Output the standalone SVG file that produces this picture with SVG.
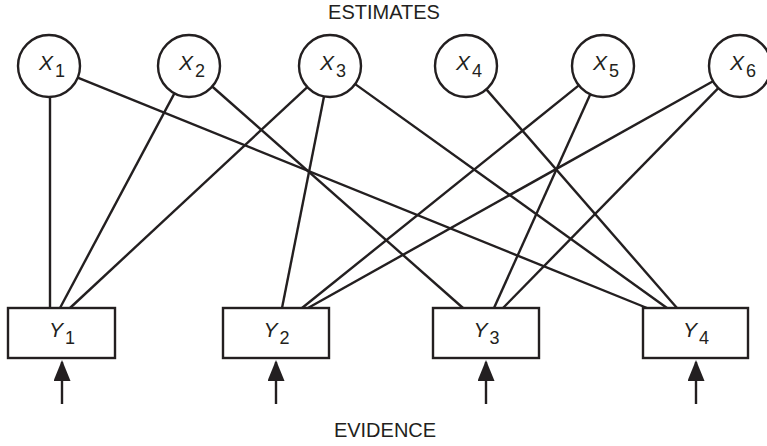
<svg xmlns="http://www.w3.org/2000/svg" width="767" height="446" viewBox="0 0 767 446">
<style>
.n{fill:#fff;stroke:#231f20;stroke-width:2.4}
.e line{stroke:#231f20;stroke-width:2.4;fill:none}
.lbl{font-family:"Liberation Sans",Arial,sans-serif;font-size:21px;fill:#231f20}
.lbl .v{font-style:italic}
.lbl .s{font-size:18px}
.cap{font-family:"Liberation Sans",Arial,sans-serif;font-size:20px;fill:#231f20;text-anchor:middle}
.ev{stroke:#231f20;stroke-width:2.4}
</style>
<defs>
<marker id="ah" viewBox="0 0 21 17" markerWidth="21" markerHeight="17" markerUnits="userSpaceOnUse" refX="19" refY="8.5" orient="auto">
<path d="M0,0 L21,8.5 L0,17 z" fill="#231f20"/>
</marker>
</defs>
<rect width="767" height="446" fill="#fff"/>
<text class="cap" x="384" y="19">ESTIMATES</text>
<text class="cap" x="385" y="437">EVIDENCE</text>
<g class="e" id="connectors">
<line x1="50" y1="97" x2="50" y2="308"/>
<line x1="77.7" y1="77.6" x2="647" y2="308"/>
<line x1="174.4" y1="93.4" x2="60" y2="308"/>
<line x1="212.2" y1="86.5" x2="463" y2="308"/>
<line x1="307.3" y1="87.1" x2="70" y2="308"/>
<line x1="324" y1="96.4" x2="282" y2="308"/>
<line x1="355.2" y1="84.1" x2="667" y2="308"/>
<line x1="486.4" y1="89.4" x2="677" y2="308"/>
<line x1="578.8" y1="85.4" x2="302" y2="308"/>
<line x1="590.3" y1="94.3" x2="494" y2="308"/>
<line x1="713" y1="81.2" x2="308" y2="308"/>
<line x1="718.3" y1="88.1" x2="503" y2="308"/>
<line class="ev" x1="62" y1="404" x2="62" y2="362" marker-end="url(#ah)"/>
<line class="ev" x1="276" y1="404" x2="276" y2="362" marker-end="url(#ah)"/>
<line class="ev" x1="486" y1="404" x2="486" y2="362" marker-end="url(#ah)"/>
<line class="ev" x1="696" y1="404" x2="696" y2="362" marker-end="url(#ah)"/>
</g>
<g id="X1"><circle class="n" cx="49" cy="66" r="31"/><text class="lbl" x="39" y="70"><tspan class="v">X</tspan><tspan class="s" dx="2" dy="7">1</tspan></text></g>
<g id="X2"><circle class="n" cx="189" cy="66" r="31"/><text class="lbl" x="179" y="70"><tspan class="v">X</tspan><tspan class="s" dx="2" dy="7">2</tspan></text></g>
<g id="X3"><circle class="n" cx="330" cy="66" r="31"/><text class="lbl" x="320" y="70"><tspan class="v">X</tspan><tspan class="s" dx="2" dy="7">3</tspan></text></g>
<g id="X4"><circle class="n" cx="466" cy="66" r="31"/><text class="lbl" x="456" y="70"><tspan class="v">X</tspan><tspan class="s" dx="2" dy="7">4</tspan></text></g>
<g id="X5"><circle class="n" cx="603" cy="66" r="31"/><text class="lbl" x="593" y="70"><tspan class="v">X</tspan><tspan class="s" dx="2" dy="7">5</tspan></text></g>
<g id="X6"><circle class="n" cx="740" cy="66" r="31"/><text class="lbl" x="730" y="70"><tspan class="v">X</tspan><tspan class="s" dx="2" dy="7">6</tspan></text></g>
<g id="Y1"><rect class="n" x="8" y="308" width="107" height="50"/><text class="lbl" x="49" y="337"><tspan class="v">Y</tspan><tspan class="s" dx="2" dy="7">1</tspan></text></g>
<g id="Y2"><rect class="n" x="223" y="308" width="106" height="50"/><text class="lbl" x="263.5" y="337"><tspan class="v">Y</tspan><tspan class="s" dx="2" dy="7">2</tspan></text></g>
<g id="Y3"><rect class="n" x="433" y="308" width="106" height="50"/><text class="lbl" x="473.5" y="337"><tspan class="v">Y</tspan><tspan class="s" dx="2" dy="7">3</tspan></text></g>
<g id="Y4"><rect class="n" x="643" y="308" width="105" height="50"/><text class="lbl" x="683" y="337"><tspan class="v">Y</tspan><tspan class="s" dx="2" dy="7">4</tspan></text></g>
</svg>
